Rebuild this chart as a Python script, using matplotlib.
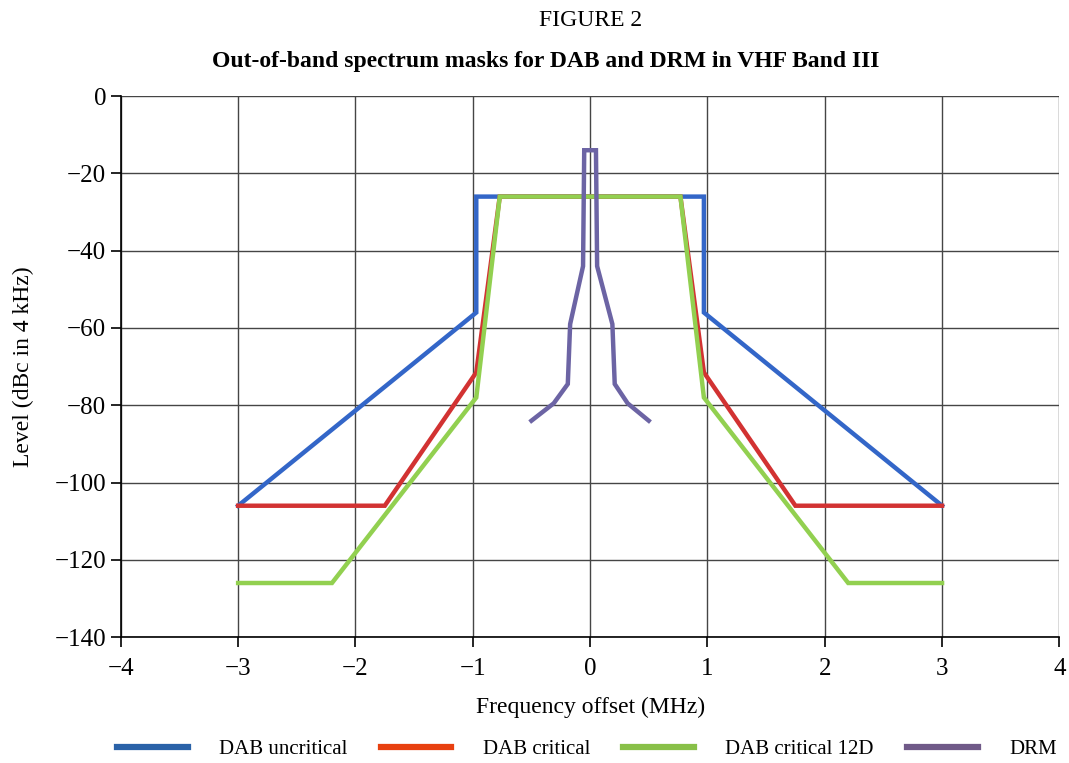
import numpy as np
import matplotlib
matplotlib.use("Agg")
import matplotlib.pyplot as plt

plt.rcParams['font.family'] = ['Liberation Serif', 'DejaVu Serif']

# mask data (MHz offset, dBc in 4 kHz)
uncrit_x = [-3, -0.97, -0.97, 0.97, 0.97, 3]
uncrit_y = [-106, -56, -26, -26, -56, -106]

crit_x = [-3, -1.75, -0.97, -0.77, 0.77, 0.97, 1.75, 3]
crit_y = [-106, -106, -71.5, -26, -26, -71.5, -106, -106]

crit12d_x = [-3, -2.2, -0.97, -0.77, 0.77, 0.97, 2.2, 3]
crit12d_y = [-126, -126, -78, -26, -26, -78, -126, -126]

drm_x = [-0.5, -0.31, -0.19, -0.17, -0.06, -0.05, 0.05, 0.06, 0.19, 0.21, 0.32, 0.5]
drm_y = [-84, -79.5, -74.5, -59, -44, -14, -14, -44, -59, -74.5, -79.5, -84]

labels = ['DAB uncritical', 'DAB critical', 'DAB critical 12D', 'DRM']
colors = ['#3366c8', '#d23232', '#92d050', '#6c64a4']
legend_colors = ['#2a62a8', '#e84010', '#88c048', '#705a88']

fig = plt.figure(figsize=(10.69, 7.63), dpi=100)
ax = fig.add_axes([0.113, 0.165, 0.878, 0.709])

series = [(uncrit_x, uncrit_y), (crit_x, crit_y), (crit12d_x, crit12d_y), (drm_x, drm_y)]
for (xs, ys), c in zip(series, colors):
    ax.plot(xs, ys, color=c, lw=3.2, solid_joinstyle='miter')

ax.set_xlim(-4, 4)
ax.set_ylim(-140, 0)
ax.set_xticks(np.arange(-4, 5, 1))
ax.set_yticks(np.arange(-140, 1, 20))
ax.grid(True, color='#454545', lw=1)
ax.set_axisbelow(True)
for s in ['top', 'right']:
    ax.spines[s].set_visible(False)
for s in ['left', 'bottom']:
    ax.spines[s].set_color('black')
    ax.spines[s].set_linewidth(1.2)
ax.tick_params(labelsize=18, length=7, width=1.2, direction='out')
ax.tick_params(axis='x', pad=8)

ax.set_xlabel('Frequency offset (MHz)', fontsize=17, labelpad=12)
ax.set_ylabel('Level (dBc in 4 kHz)', fontsize=17, labelpad=15)

fig.text(0.552, 0.973, 'FIGURE 2', ha='center', va='center', fontsize=17)
fig.text(0.51, 0.92, 'Out-of-band spectrum masks for DAB and DRM in VHF Band III',
         ha='center', va='center', fontsize=17, fontweight='bold')

handles = [plt.Line2D([], [], color=c, lw=4.5) for c in legend_colors]
fig.legend(handles, labels, loc='center', bbox_to_anchor=(0.549, 0.018), ncol=4,
           frameon=False, fontsize=15, handlelength=3.4, handletextpad=1.5,
           columnspacing=1.6)

fig.savefig('out.png', dpi=100)
